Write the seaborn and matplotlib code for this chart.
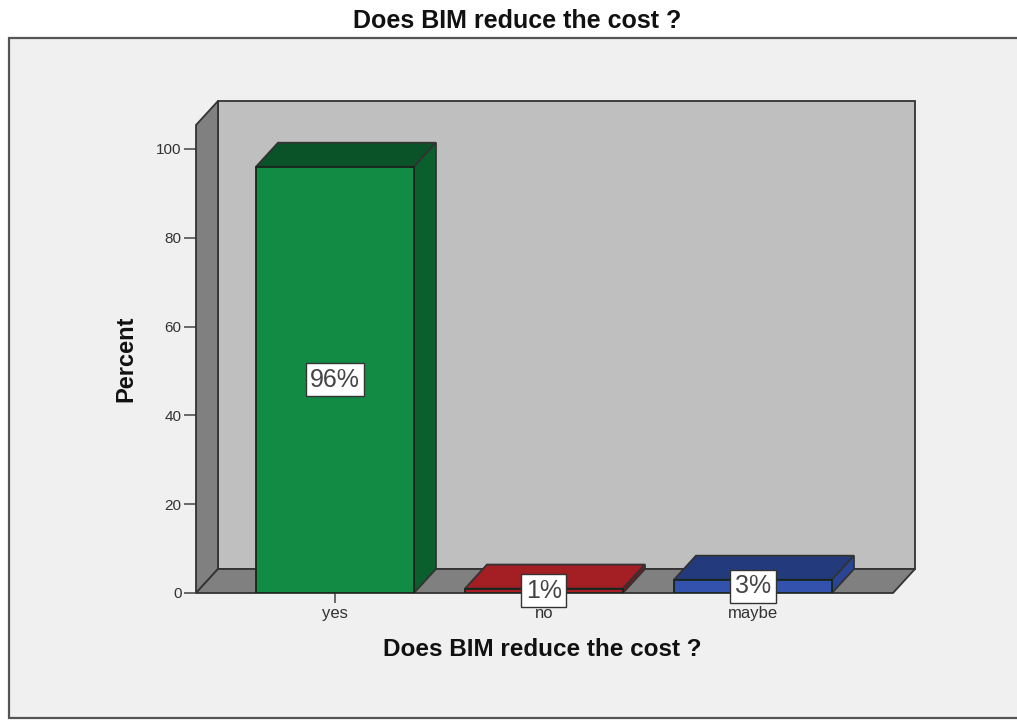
import matplotlib
matplotlib.use("Agg")
import matplotlib.pyplot as plt
from matplotlib.patches import Polygon, Rectangle
import pandas as pd
import seaborn as sns

categories = ["yes", "no", "maybe"]
percent = [96, 1, 3]
value_labels = ["96%", "1%", "3%"]
front_colors = ["#128C45", "#A81E24", "#3252AE"]
top_colors = ["#0A5227", "#A31F24", "#233A7C"]
side_colors = ["#0A5F2D", "#7E161B", "#2A4595"]
y_ticks = [0, 20, 40, 60, 80, 100]
title_text = "Does BIM reduce the cost ?"

W, H = 1017, 722
sns.set_theme(style="white")
plt.rcParams["font.family"] = ["Liberation Sans", "DejaVu Sans"]

fig = plt.figure(figsize=(W / 100, H / 100), dpi=100, facecolor="white")

# Chart frame with its light grey panel
fig.add_artist(Rectangle((9 / W, 1 - 718 / H), 1040 / W, 680 / H,
                         transform=fig.transFigure, facecolor="#F0F0F0",
                         edgecolor="#555555", linewidth=1.6, zorder=-1))

ax = fig.add_axes([196 / W, 1 - 593 / H, 697 / W, 468 / H])
ax.set_facecolor("none")

frame = pd.DataFrame({"answer": categories, "percent": percent})
sns.barplot(data=frame, x="answer", y="percent", hue="answer",
            palette=front_colors, saturation=1, width=0.756, legend=False,
            edgecolor="#17251C", linewidth=1.3, zorder=5, ax=ax)

ax.set_xlim(-0.665, 2.67)
ax.set_ylim(0, 105.4)

# Oblique depth of the pseudo-3D box, in data units
dx, dy = 22 / 209, 24 / 4.44
x0, x1 = ax.get_xlim()
top = ax.get_ylim()[1]
wall_edge = "#333333"


def face(points, color, z):
    ax.add_patch(Polygon(points, closed=True, facecolor=color, edgecolor=wall_edge,
                         linewidth=1.3, clip_on=False, zorder=z))


bars = [p for p in ax.patches if isinstance(p, Rectangle)]

face([(x0 + dx, dy), (x1 + dx, dy), (x1 + dx, top + dy), (x0 + dx, top + dy)], "#BFBFBF", 1)
face([(x0, 0), (x0 + dx, dy), (x0 + dx, top + dy), (x0, top)], "#808080", 2)
face([(x0, 0), (x1, 0), (x1 + dx, dy), (x0 + dx, dy)], "#808080", 2)

# Top and side faces of each bar, taken from the drawn bar rectangles
for bar, top_c, side_c in zip(bars, top_colors, side_colors):
    left, right = bar.get_x(), bar.get_x() + bar.get_width()
    h = bar.get_height()
    face([(left, h), (right, h), (right + dx, h + dy), (left + dx, h + dy)], top_c, 4)
    face([(right, 0), (right + dx, dy), (right + dx, h + dy), (right, h)], side_c, 4)

# Value labels in white boxes at mid-height of each bar
for i, (v, lab) in enumerate(zip(percent, value_labels)):
    ax.text(i, v / 2, lab, ha="center", va="center", fontsize=18, color="#444444", zorder=8,
            bbox=dict(boxstyle="square,pad=0.18", facecolor="white", edgecolor="#333333",
                      linewidth=1.0))

for side in ["top", "right", "left", "bottom"]:
    ax.spines[side].set_visible(False)

ax.set_yticks(y_ticks)
ax.tick_params(axis="y", left=True, length=8.5, width=1.1, color="#444444",
               labelsize=11, labelcolor="#333333", pad=2)
ax.tick_params(axis="x", bottom=True, length=7, width=1.1, color="#444444",
               labelsize=12, labelcolor="#333333", pad=2.5)

ax.set_xlabel(title_text, fontsize=17.5, fontweight="bold", color="#111111")
ax.xaxis.set_label_coords((542 - 196) / 697, -56 / 468, transform=ax.transAxes)
ax.xaxis.label.set_verticalalignment("center")
ax.set_ylabel("Percent", fontsize=17, fontweight="bold", color="#111111")
ax.yaxis.set_label_coords((126 - 196) / 697, (593 - 359) / 468, transform=ax.transAxes)
ax.yaxis.label.set_verticalalignment("center")

fig.text(517 / W, 1 - 21 / H, title_text, ha="center", va="center",
         fontsize=18, fontweight="bold", color="#111111")

fig.savefig("out.png", dpi=100, facecolor="white")
